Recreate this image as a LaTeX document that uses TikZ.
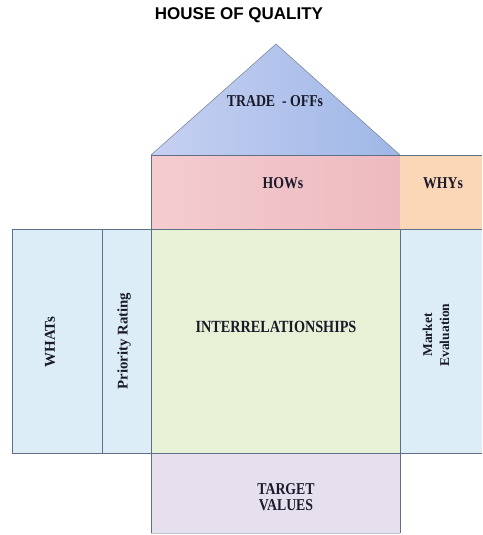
\documentclass[tikz,border=0pt]{standalone}
\usepackage{fontspec}
\setmainfont{Liberation Serif}
\newfontfamily\titlefont{Liberation Sans}
\newcommand{\tallbox}[1]{\scalebox{1}[1.2]{#1}}
\begin{document}
\begin{tikzpicture}[x=1pt,y=-1pt,
  edge/.style={draw=lineC, line width=0.7pt},
  lbl/.style={font=\fontsize{13.8}{15}\selectfont\bfseries, text=textC, inner sep=0pt, align=center},
  vlbl/.style={lbl, rotate=90}]
\definecolor{lineC}{HTML}{5F6F86}
\definecolor{textC}{HTML}{1A1A2A}
\definecolor{triL}{HTML}{C6D0F2}
\definecolor{triR}{HTML}{9FB7E6}
\definecolor{howL}{HTML}{F4CCD0}
\definecolor{howR}{HTML}{EDBABF}
\definecolor{whyC}{HTML}{FBD7B8}
\definecolor{whatC}{HTML}{DDEDF8}
\definecolor{relC}{HTML}{E7F1D6}
\definecolor{tgtC}{HTML}{E6DFEE}
\useasboundingbox (0,0) rectangle (482,535);
\fill[white] (0,0) rectangle (482,535);
% title
\node[font=\titlefont\fontsize{17}{19}\selectfont\bfseries, text=black, inner sep=0pt] (title) at (239,15) {HOUSE OF QUALITY};
% roof
\shade[left color=triL, right color=triR] (151,155) -- (276,44) -- (400,155) -- cycle;
\draw[draw=lineC!80, line width=0.6pt] (151,155) -- (276,44) -- (400,155);
\node[lbl] (trade) at (275,101) {\tallbox{TRADE\ \ - OFFs}};
% HOWs
\shade[left color=howL, right color=howR] (151,155) rectangle (400,229);
\draw[edge] (151,229) -- (151,155) -- (400,155) -- (400,229);
\node[lbl] (hows) at (283,183) {\tallbox{HOWs}};
% WHYs
\fill[whyC] (400,155) rectangle (482,229);
\draw[edge] (400,155) -- (482,155);
\node[lbl] (whys) at (443,183) {\tallbox{WHYs}};
% WHATs and priority
\fill[whatC] (12,229) rectangle (151,453);
\draw[edge] (12,229) rectangle (151,453);
\draw[edge] (102,229) -- (102,453);
\node[vlbl, font=\fontsize{15}{16}\selectfont\bfseries] (whats) at (50,342) {WHATs};
\node[vlbl, font=\fontsize{14.8}{16}\selectfont\bfseries] (prio) at (124,341) {Priority Rating};
% interrelationships
\fill[relC] (151,229) rectangle (400,453);
\draw[edge] (151,229) rectangle (400,453);
\node[lbl, font=\fontsize{14.2}{15}\selectfont\bfseries] (rel) at (276,327) {\tallbox{INTERRELATIONSHIPS}};
% market evaluation
\fill[whatC] (400,229) rectangle (482,453);
\draw[edge] (400,229) -- (482,229);
\draw[edge] (400,453) -- (482,453);
\draw[edge] (400,229) -- (400,453);
\node[vlbl, font=\fontsize{13.5}{17}\selectfont\bfseries] (market) at (436,335) {Market\\Evaluation};
% target values
\fill[tgtC] (151,453) rectangle (400,533);
\draw[edge] (151,453) -- (151,533);
\draw[edge] (400,453) -- (400,533);
\draw[edge] (151,453) -- (400,453);
\draw[draw=lineC!40, line width=0.6pt] (151,533) -- (400,533);
\node[lbl, align=center] (target) at (286,497) {\tallbox{TARGET}\\[1pt]\tallbox{VALUES}};
\end{tikzpicture}
\end{document}
